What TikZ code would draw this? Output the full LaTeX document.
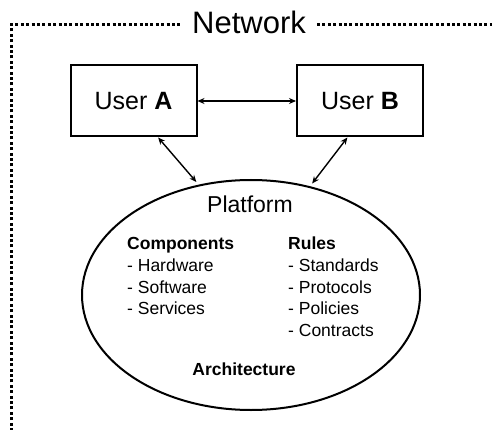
\documentclass[tikz,border=0pt]{standalone}
\usepackage{fontspec}
\setmainfont{Liberation Sans}
\usetikzlibrary{shapes.geometric,arrows.meta}
\begin{document}
\begin{tikzpicture}[x=1pt,y=-1pt,
  netline/.style={line width=3pt,dash pattern=on 3pt off 2.4pt},
  userbox/.style={draw,line width=2pt,minimum width=126pt,minimum height=71pt,inner sep=0pt,font=\fontsize{25}{30}\selectfont},
  link/.style={line width=1.4pt,{Stealth[length=7pt,width=6pt]}-{Stealth[length=7pt,width=6pt]}},
  item/.style={anchor=base west,inner sep=0pt,font=\fontsize{17.5}{21}\selectfont},
  head/.style={item,font=\fontsize{17.5}{21}\selectfont\bfseries}]
\useasboundingbox (0,0) rectangle (492,430);
\node[inner sep=0pt,anchor=base,font=\fontsize{31}{36}\selectfont] (net) at (249,34) {Network};
\coordinate (corner) at (11,25);
\coordinate (bottom) at (11,431);
\coordinate (right) at (493,25);
\coordinate (nw) at (181,25);
\coordinate (ne) at (317,25);
\draw[netline] (bottom) -- (corner) -- (nw);
\draw[netline] (ne) -- (right);
\node[userbox] (ua) at (133.5,101) {User \textbf{A}};
\node[userbox] (ub) at (360,101) {User \textbf{B}};
\node[draw,ellipse,line width=2pt,minimum width=338pt,minimum height=230pt,inner sep=0pt] (plat) at (251,295) {};
\draw[link] (ua.east) -- (ub.west);
\draw[link] (ua.-56.5) -- ([shift={(-1,-3)}]plat.116);
\draw[link] (ub.251.3) -- ([shift={(1,-3)}]plat.61.8);
\node[inner sep=0pt,anchor=base,font=\fontsize{23}{28}\selectfont] (ptitle) at (250,213) {Platform};
\node[head] (comp) at (127,249) {Components};
\node[item] (hw) at (127,271) {- Hardware};
\node[item] (sw) at (127,293) {- Software};
\node[item] (sv) at (127,314) {- Services};
\node[head] (rules) at (288,249) {Rules};
\node[item] (st) at (288,271) {- Standards};
\node[item] (pr) at (288,293) {- Protocols};
\node[item] (po) at (288,314) {- Policies};
\node[item] (co) at (288,336) {- Contracts};
\node[head,anchor=base] (arch) at (244,375) {Architecture};
\end{tikzpicture}
\end{document}
